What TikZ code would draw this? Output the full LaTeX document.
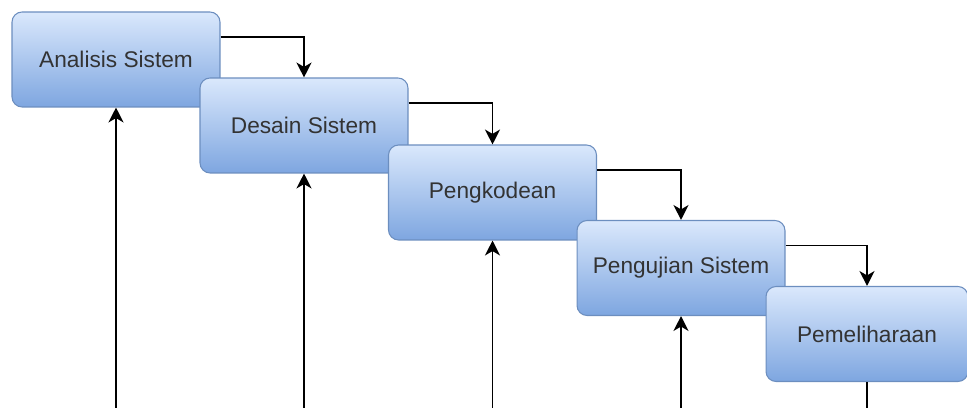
\documentclass[tikz,border=0pt]{standalone}
\usepackage{fontspec}
\setmainfont{Liberation Sans}
\usetikzlibrary{arrows.meta}
\definecolor{boxtop}{HTML}{DAE8FC}
\definecolor{boxbot}{HTML}{7EA6E0}
\definecolor{boxline}{HTML}{6C8EBF}
\definecolor{txt}{HTML}{333333}
\begin{document}
\begin{tikzpicture}[x=0.02cm,y=-0.02cm,
  tahap/.style={draw=boxline,line width=0.6pt,top color=boxtop,bottom color=boxbot,
    rounded corners=0.2cm,minimum width=4.16cm,minimum height=1.9cm,
    text=txt,font=\fontsize{12.9}{15}\selectfont},
  arr/.style={-{Stealth[length=8.5pt,width=8.5pt,inset=2.5pt]},line width=0.9pt}]
\useasboundingbox (0,0) rectangle (967,408);
% tahapan waterfall
\node[tahap] (analisis) at (116,59.5) {Analisis Sistem};
\node[tahap] (desain) at (304,125.5) {Desain Sistem};
\node[tahap] (kode) at (492.5,192.5) {Pengkodean};
\node[tahap] (uji) at (681,268) {Pengujian Sistem};
\node[tahap,minimum width=4.04cm] (pelihara) at (867,334) {Pemeliharaan};
% alur ke tahap berikutnya
\draw[arr] ([yshift=0.45cm]analisis.east) -| (desain.north);
\draw[arr] ([yshift=0.45cm]desain.east) -| (kode.north);
\draw[arr] ([yshift=0.45cm]kode.east) -| (uji.north);
\draw[arr] ([yshift=0.45cm]uji.east) -| (pelihara.north);
% umpan balik
\coordinate (dasar) at (0,409);
\draw[line width=0.9pt] (pelihara.south) -- (pelihara.south |- dasar) -- (analisis.south |- dasar);
\foreach \n in {analisis,desain,kode,uji}
  \draw[arr] (\n.south |- dasar) -- (\n.south);
\end{tikzpicture}
\end{document}
